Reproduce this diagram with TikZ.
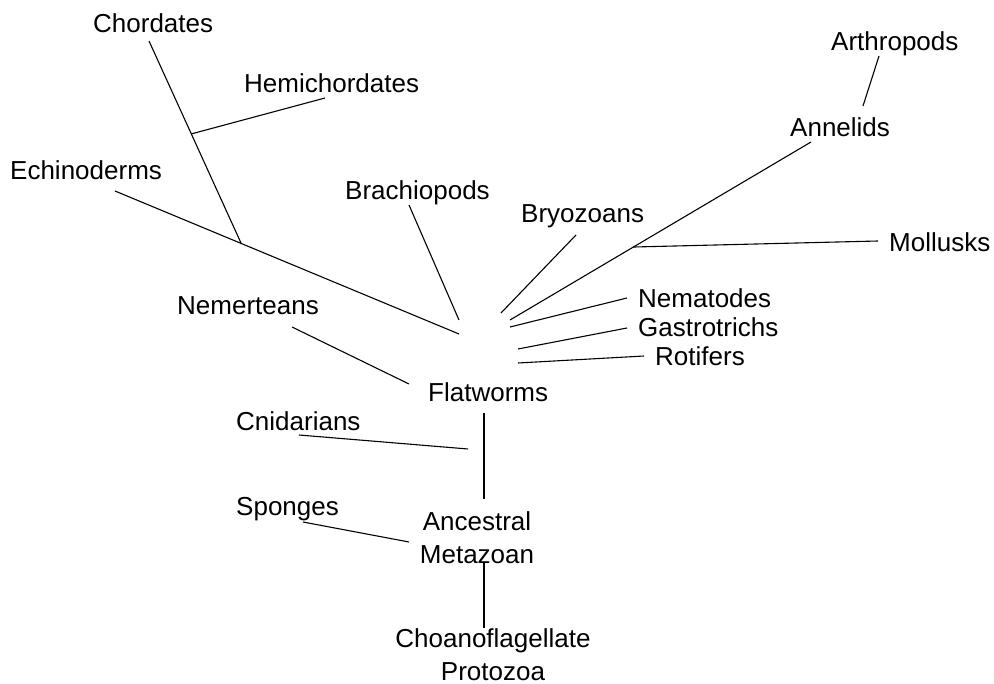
\documentclass[tikz,border=0pt]{standalone}
\usepackage{fontspec}
\setmainfont{Liberation Sans}
\usetikzlibrary{calc}
\begin{document}
\begin{tikzpicture}[x=1pt, y=-1pt,
    taxon/.style={font=\fontsize{26}{32.5}\selectfont, inner sep=0pt, anchor=base west},
    branch/.style={line width=1.1pt}]

    \useasboundingbox (0,0) rectangle (994,684);

    % Taxa (labels)
    \node[taxon] (chordates) at (93,33) {Chordates};
    \node[taxon] (hemichordates) at (244,93) {Hemichordates};
    \node[taxon] (echinoderms) at (10,180) {Echinoderms};
    \node[taxon] (brachiopods) at (345,200) {Brachiopods};
    \node[taxon] (bryozoans) at (521,223) {Bryozoans};
    \node[taxon] (arthropods) at (831,51) {Arthropods};
    \node[taxon] (annelids) at (790,137) {Annelids};
    \node[taxon] (mollusks) at (889,252) {Mollusks};
    \node[taxon] (nematodes) at (638,308) {Nematodes};
    \node[taxon] (gastrotrichs) at (638,337) {Gastrotrichs};
    \node[taxon] (rotifers) at (655,366) {Rotifers};
    \node[taxon] (nemerteans) at (177,315) {Nemerteans};
    \node[taxon] (flatworms) at (428,402) {Flatworms};
    \node[taxon] (cnidarians) at (236,431) {Cnidarians};
    \node[taxon] (sponges) at (236,516) {Sponges};
    \node[taxon, anchor=base, align=center] (metazoan) at (477,563) {Ancestral\\Metazoan};
    \node[taxon, anchor=base, align=center] (choano) at (493,680) {Choanoflagellate\\Protozoa};

    % Branch ends
    \coordinate (echino_a) at (115,191);
    \coordinate (echino_b) at (459,334);
    \coordinate (chord_a) at (149,41);
    \coordinate (chord_b) at (241,243);
    \coordinate (hemi_a) at (325,98);
    \coordinate (hemi_b) at ($(chord_a)!0.46!(chord_b)$);
    \coordinate (brach_a) at (409,205);
    \coordinate (brach_b) at (459,320);
    \coordinate (bryo_a) at (576,235);
    \coordinate (bryo_b) at (501,313);
    \coordinate (annel_a) at (811,142);
    \coordinate (annel_b) at (510,320);
    \coordinate (arthro_a) at (879,56);
    \coordinate (arthro_b) at (863,106);
    \coordinate (moll_a) at (878,241);
    \coordinate (moll_b) at ($(annel_a)!0.59!(annel_b)$);
    \coordinate (nema_a) at (627,298);
    \coordinate (nema_b) at (510,327);
    \coordinate (gastro_a) at (627,328);
    \coordinate (gastro_b) at (518,349);
    \coordinate (roti_a) at (644,356);
    \coordinate (roti_b) at (518,363);
    \coordinate (nemer_a) at (292,327);
    \coordinate (nemer_b) at (409,384);
    \coordinate (flat_a) at (484,413);
    \coordinate (flat_b) at (484,499);
    \coordinate (cnid_a) at (299,435);
    \coordinate (cnid_b) at (468,449);
    \coordinate (spong_a) at (303,522);
    \coordinate (spong_b) at (409,542);
    \coordinate (meta_a) at (484,563);
    \coordinate (meta_b) at (484,628);

    % Branches
    \draw[branch] (echino_a) -- (echino_b);
    \draw[branch] (chord_a) -- (chord_b);
    \draw[branch] (hemi_a) -- (hemi_b);
    \draw[branch] (brach_a) -- (brach_b);
    \draw[branch] (bryo_a) -- (bryo_b);
    \draw[branch] (annel_a) -- (annel_b);
    \draw[branch] (arthro_a) -- (arthro_b);
    \draw[branch] (moll_a) -- (moll_b);
    \draw[branch] (nema_a) -- (nema_b);
    \draw[branch] (gastro_a) -- (gastro_b);
    \draw[branch] (roti_a) -- (roti_b);
    \draw[branch] (nemer_a) -- (nemer_b);
    \draw[branch] (flat_a) -- (flat_b);
    \draw[branch] (cnid_a) -- (cnid_b);
    \draw[branch] (spong_a) -- (spong_b);
    \draw[branch] (meta_a) -- (meta_b);

\end{tikzpicture}
\end{document}
